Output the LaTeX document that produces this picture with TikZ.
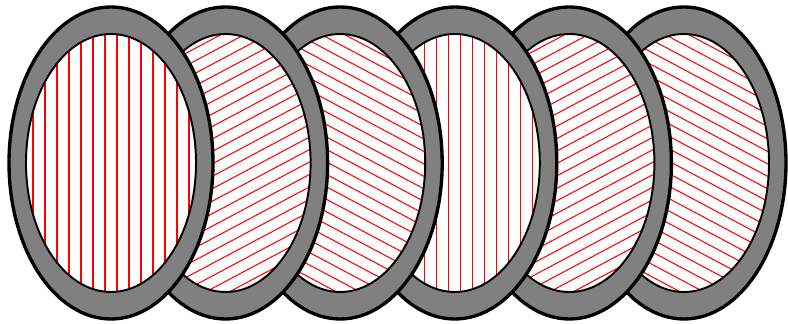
\documentclass[tikz,border=0pt]{standalone}
\tikzset{ring/.style={fill=gray, draw=black, line width=1.9pt}}
\tikzset{hole/.style={draw=black, line width=1.1pt}}
\tikzset{hatch/.style={red, line width=0.6pt}}

\begin{document}
\begin{tikzpicture}[x=0.02cm, y=0.02cm]
\useasboundingbox (0,0) rectangle (788,324);
% rings, drawn from the right so that the left ones lie on top
\foreach \i/\ang/\gap in {5/-28/11, 4/28/11, 3/90/12, 2/-28/11, 1/28/11, 0/90/12} {
    \pgfmathsetmacro{\cx}{111+114.6*\i}
    \draw[ring] (\cx,161) ellipse [x radius=102, y radius=156];
    \fill[white] (\cx,161) ellipse [x radius=85, y radius=129];
    % hatching of the hole
    \begin{scope}
        \clip (\cx,161) ellipse [x radius=85, y radius=129];
        \foreach \k in {-13,...,13}
            \draw[hatch, shift={(\cx,161)}, rotate=\ang] (-200,\k*\gap+0.5*\gap) -- (200,\k*\gap+0.5*\gap);
    \end{scope}
    \draw[hole] (\cx,161) ellipse [x radius=85, y radius=129];
}
\end{tikzpicture}
\end{document}
